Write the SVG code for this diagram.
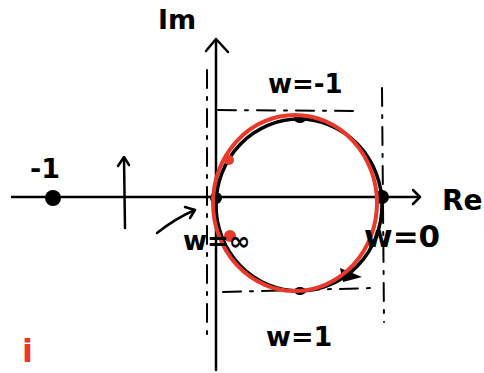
<svg xmlns="http://www.w3.org/2000/svg" width="484" height="373" viewBox="0 0 484 373">
<style>
.ax{stroke:#000;stroke-width:2.5;fill:none;stroke-linecap:round;stroke-linejoin:round}
.dash{stroke:#000;stroke-width:2;fill:none;stroke-dasharray:18 9 3 9;stroke-linecap:round}
.blk{stroke:#000;stroke-width:3.5;fill:none;stroke-linecap:round}
.red{stroke:#e8392a;stroke-width:4;fill:none;stroke-linecap:round}
.t{font-family:"DejaVu Sans","Liberation Sans",sans-serif;font-weight:bold;fill:#000}
</style>
<rect width="484" height="373" fill="#fff"/>
<g id="axes">
<path class="ax" d="M12 197 L420 197"/>
<path class="ax" d="M413 190 L420 197 L413 204"/>
<path class="ax" d="M216 370 L216 40"/>
<path class="ax" d="M206 51 L216 39 L228 52"/>
<text class="t" x="158" y="29" font-size="27">Im</text>
<text class="t" x="442" y="210" font-size="28">Re</text>
</g>
<g id="guides">
<path class="dash" d="M207 70 L207 340"/>
<path class="dash" d="M382 88 L384 322"/>
<path class="dash" d="M218 110 L358 111"/>
<path class="dash" d="M223 292 L373 288"/>
</g>
<g id="minus-one">
<circle cx="53" cy="198" r="8" fill="#000"/>
<text class="t" x="30" y="178" font-size="27">-1</text>
</g>
<g id="connectors">
<path class="ax" d="M125 228 L124 158"/>
<path class="ax" d="M118 166 L124 157 L129 165" stroke-width="2"/>
<path class="ax" d="M157 233 Q176 218 195 210" stroke-width="3.5"/>
<path class="ax" d="M185 207 L195 210 L190 218" stroke-width="3.5"/>
</g>
<g id="black-curve">
<ellipse class="blk" cx="299" cy="205" rx="83" ry="86"/>
<circle cx="216" cy="198" r="6" fill="#000"/>
<circle cx="382" cy="197" r="7" fill="#000"/>
<ellipse cx="300" cy="119" rx="6" ry="4" fill="#000"/>
<ellipse cx="300" cy="291" rx="6" ry="4" fill="#000"/>
<path d="M340 268 L362 277 L343 282 Z" fill="#000"/>
</g>
<g id="red-curve">
<ellipse class="red" cx="295" cy="203" rx="82" ry="88"/>
<circle cx="229" cy="160" r="5" fill="#e8392a"/>
<circle cx="230" cy="236" r="6" fill="#e8392a"/>
</g>
<g id="labels">
<text class="t" x="268" y="93" font-size="26">w=-1</text>
<text class="t" x="266" y="346" font-size="27">w=1</text>
<text class="t" x="364" y="247" font-size="31">w=0</text>
<text class="t" x="183" y="250" font-size="26">w=∞</text>
<text x="22" y="362" font-family="DejaVu Sans,sans-serif" font-weight="bold" font-size="32" fill="#e8392a">i</text>
</g>
</svg>
